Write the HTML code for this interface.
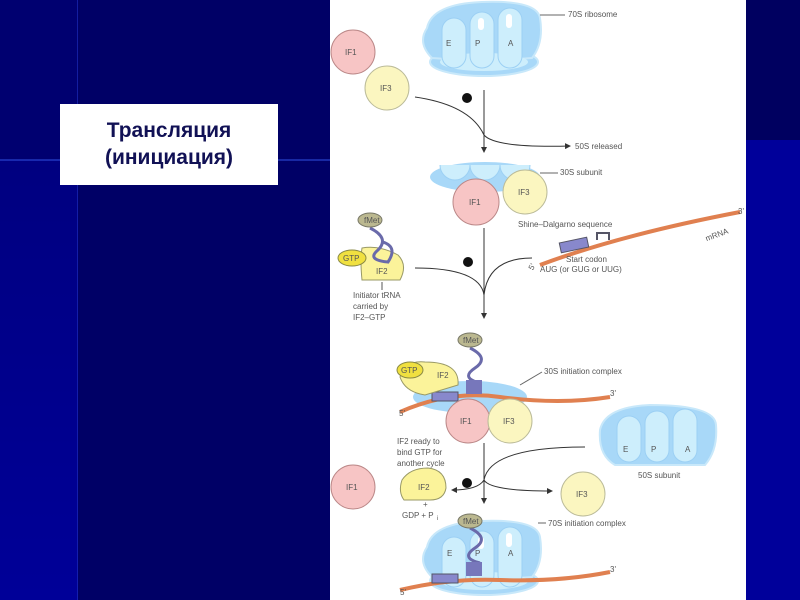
<!DOCTYPE html>
<html><head><meta charset="utf-8"><style>
body{margin:0;width:800px;height:600px;overflow:hidden;background:#000066;position:relative;font-family:"Liberation Sans",sans-serif}
.a{position:absolute}
</style></head><body>
<div class="a" style="left:0;top:0;width:78px;height:160px;background:#000070"></div>
<div class="a" style="left:0;top:160px;width:78px;height:440px;background:linear-gradient(#000080,#000098)"></div>
<div class="a" style="left:0;top:159px;width:330px;height:2px;background:#3050e0;opacity:.5"></div>
<div class="a" style="left:77px;top:0;width:1px;height:600px;background:#2030c0;opacity:.6"></div>
<div class="a" style="left:746px;top:0;width:54px;height:140px;background:#000060"></div>
<div class="a" style="left:746px;top:140px;width:54px;height:460px;background:#00009a"></div>
<div class="a" style="left:60px;top:104px;width:218px;height:81px;background:#fff;text-align:center;font-weight:bold;font-size:21px;color:#111155;line-height:27px;padding-top:13px;box-sizing:border-box">Трансляция<br>(инициация)</div>
<div class="a" style="left:330px;top:0;width:416px;height:600px;background:#fff"></div>
<svg class="a" style="left:0;top:0" width="800" height="600" viewBox="0 0 800 600" font-family="Liberation Sans,sans-serif" font-size="8" fill="#555">
<defs>
<marker id="ar" markerWidth="6" markerHeight="6" refX="5" refY="3" orient="auto"><path d="M0,0L6,3L0,6z" fill="#333"/></marker>
<g id="rib">
<ellipse cx="2" cy="24" rx="54" ry="14" fill="#a8d8f8" stroke="#c8e8fa" stroke-width="2"/>
<path d="M-55,-10 Q-50,-34 0,-36 Q55,-38 58,-20 Q62,5 50,20 Q0,24 -50,20 Q-65,5 -55,-10z" fill="#a8d8f8" stroke="#c8e8fa" stroke-width="2"/>
<ellipse cx="2" cy="24" rx="44" ry="9" fill="#cdeefc"/>
<rect x="-40" y="-20" width="24" height="50" rx="12" fill="#cdeefc" stroke="#9cd0f4"/>
<rect x="-12" y="-26" width="24" height="56" rx="12" fill="#cdeefc" stroke="#9cd0f4"/>
<rect x="16" y="-30" width="24" height="60" rx="12" fill="#cdeefc" stroke="#9cd0f4"/>
<rect x="-4" y="-20" width="6" height="12" rx="3" fill="#fff"/>
<rect x="24" y="-24" width="6" height="14" rx="3" fill="#fff"/>
</g>
</defs>
<!-- top 70S -->
<use href="#rib" x="482" y="38"/>
<text x="446" y="46">E</text><text x="475" y="46">P</text><text x="508" y="46">A</text>
<line x1="540" y1="15" x2="565" y2="15" stroke="#666"/><text x="568" y="17">70S ribosome</text>
<circle cx="353" cy="52" r="22" fill="#f7c5c5" stroke="#b88"/><text x="345" y="55">IF1</text>
<circle cx="387" cy="88" r="22" fill="#fbf6c0" stroke="#bb9"/><text x="380" y="91">IF3</text>
<line x1="484" y1="90" x2="484" y2="152" stroke="#333" marker-end="url(#ar)"/>
<path d="M415,97 Q470,105 484,135 Q495,148 570,146" fill="none" stroke="#333" marker-end="url(#ar)"/>
<circle cx="467" cy="98" r="5" fill="#111"/><text x="575" y="149">50S released</text>
<!-- 30S -->
<ellipse cx="485" cy="177" rx="55" ry="15" fill="#a8d8f8"/>
<path d="M440,165 a10,10 0 0 0 30,0 a10,10 0 0 0 30,0 a10,10 0 0 0 30,0" fill="#cdeefc" stroke="#9cd0f4"/>
<line x1="540" y1="173" x2="558" y2="173" stroke="#666"/><text x="560" y="175">30S subunit</text>
<circle cx="525" cy="192" r="22" fill="#fbf6c0" stroke="#bb9"/><text x="518" y="195">IF3</text>
<circle cx="476" cy="202" r="23" fill="#f7c5c5" stroke="#b88"/><text x="469" y="205">IF1</text>
<!-- step 2 -->
<line x1="484" y1="228" x2="484" y2="318" stroke="#333" marker-end="url(#ar)"/>
<circle cx="468" cy="262" r="5" fill="#111"/>
<path d="M415,268 Q480,268 484,295 Q488,258 532,258" fill="none" stroke="#333"/>
<path d="M540,265 Q620,235 740,212" fill="none" stroke="#e08050" stroke-width="4"/>
<rect x="560" y="240" width="28" height="10" fill="#8888cc" stroke="#556" transform="rotate(-12 574 245)"/>
<path d="M597,240 v-7 h12 v7" fill="none" stroke="#556" stroke-width="2"/>
<text x="518" y="227">Shine–Dalgarno sequence</text>
<text x="566" y="262">Start codon</text><text x="540" y="272">AUG (or GUG or UUG)</text>
<text x="530" y="270" transform="rotate(-60 532 268)">5'</text>
<text x="705" y="238" transform="rotate(-20 715 235)">mRNA</text><text x="738" y="214">3'</text>
<path d="M362,248 Q360,260 362,280 L400,280 Q408,265 398,255 Q380,245 362,248z" fill="#fbf39a" stroke="#996"/>
<ellipse cx="352" cy="258" rx="14" ry="8" fill="#f0e040" stroke="#884"/><text x="343" y="261">GTP</text>
<text x="376" y="274">IF2</text>
<path d="M370,228 q20,10 8,22 q-12,10 10,12 q10,-15 -5,-20" fill="none" stroke="#6a6aaa" stroke-width="3"/>
<ellipse cx="370" cy="220" rx="12" ry="7" fill="#bbb890" stroke="#776"/><text x="364" y="223">fMet</text>
<line x1="382" y1="282" x2="382" y2="290" stroke="#555"/>
<text x="353" y="298">Initiator tRNA</text><text x="353" y="309">carried by</text><text x="353" y="320">IF2–GTP</text>
<!-- 30S initiation complex -->
<ellipse cx="470" cy="397" rx="57" ry="16" fill="#a8d8f8"/>
<path d="M400,412 Q450,390 500,397 Q560,405 610,397" fill="none" stroke="#e08050" stroke-width="4"/>
<rect x="432" y="392" width="26" height="9" fill="#8888cc" stroke="#556"/>
<path d="M400,377 Q405,360 425,362 Q460,362 458,385 L425,395 Q405,392 400,377z" fill="#fbf39a" stroke="#996"/>
<ellipse cx="410" cy="370" rx="13" ry="8" fill="#f0e040" stroke="#884"/><text x="401" y="373">GTP</text>
<text x="437" y="378">IF2</text>
<path d="M470,348 q20,10 5,20 q-15,10 5,15" fill="none" stroke="#6a6aaa" stroke-width="3"/>
<rect x="466" y="380" width="16" height="14" fill="#7777bb"/>
<ellipse cx="470" cy="340" rx="12" ry="7" fill="#bbb890" stroke="#776"/><text x="463" y="343">fMet</text>
<line x1="520" y1="385" x2="542" y2="372" stroke="#666"/><text x="544" y="374">30S initiation complex</text>
<text x="399" y="416">5'</text><text x="610" y="396">3'</text>
<circle cx="468" cy="421" r="22" fill="#f7c5c5" stroke="#b88"/><text x="460" y="424">IF1</text>
<circle cx="510" cy="421" r="22" fill="#fbf6c0" stroke="#bb9"/><text x="503" y="424">IF3</text>
<!-- step 3 -->
<text x="397" y="444">IF2 ready to</text><text x="397" y="455">bind GTP for</text><text x="397" y="466">another cycle</text>
<line x1="484" y1="443" x2="484" y2="503" stroke="#333" marker-end="url(#ar)"/>
<circle cx="467" cy="483" r="5" fill="#111"/>
<path d="M585,447 Q490,447 484,480 Q478,490 452,490" fill="none" stroke="#333" marker-end="url(#ar)"/>
<path d="M484,480 Q490,491 552,491" fill="none" stroke="#333" marker-end="url(#ar)"/>
<circle cx="353" cy="487" r="22" fill="#f7c5c5" stroke="#b88"/><text x="346" y="490">IF1</text>
<path d="M402,480 Q410,468 428,468 Q446,470 446,488 Q444,500 430,500 L404,500 Q398,492 402,480z" fill="#fbf39a" stroke="#996"/>
<text x="418" y="490">IF2</text>
<text x="423" y="507">+</text><text x="402" y="518">GDP + P</text><text x="437" y="520" font-size="6">i</text>
<circle cx="583" cy="494" r="22" fill="#fbf6c0" stroke="#bb9"/><text x="576" y="497">IF3</text>
<path d="M600,430 Q605,407 650,405 Q715,405 716,425 Q718,450 705,465 L615,465 Q598,455 600,430z" fill="#a8d8f8" stroke="#c8e8fa" stroke-width="2"/>
<rect x="617" y="416" width="24" height="46" rx="12" fill="#cdeefc" stroke="#9cd0f4"/>
<rect x="645" y="411" width="24" height="51" rx="12" fill="#cdeefc" stroke="#9cd0f4"/>
<rect x="673" y="409" width="24" height="53" rx="12" fill="#cdeefc" stroke="#9cd0f4"/>
<text x="623" y="452">E</text><text x="651" y="452">P</text><text x="685" y="452">A</text>
<text x="638" y="478">50S subunit</text>
<!-- 70S initiation complex -->
<use href="#rib" x="482" y="557"/>
<path d="M400,590 Q450,578 500,580 Q560,582 610,572" fill="none" stroke="#e08050" stroke-width="4"/>
<rect x="432" y="574" width="26" height="9" fill="#8888cc" stroke="#556"/>
<path d="M470,528 q20,10 5,20 q-15,10 5,15" fill="none" stroke="#6a6aaa" stroke-width="3"/>
<rect x="466" y="562" width="16" height="14" fill="#7777bb"/>
<ellipse cx="470" cy="521" rx="12" ry="7" fill="#bbb890" stroke="#776"/><text x="463" y="524">fMet</text>
<text x="447" y="556">E</text><text x="475" y="556">P</text><text x="508" y="556">A</text>
<line x1="538" y1="523" x2="546" y2="523" stroke="#666"/><text x="548" y="526">70S initiation complex</text>
<text x="400" y="595">5'</text><text x="610" y="572">3'</text>
</svg>
</body></html>
